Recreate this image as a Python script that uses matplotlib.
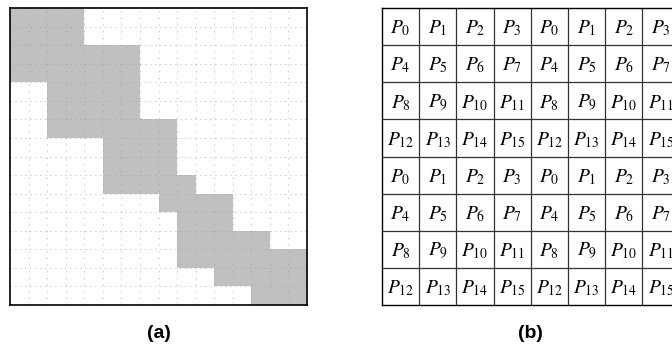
import matplotlib
matplotlib.use("Agg")
import matplotlib.pyplot as plt
from matplotlib.patches import Rectangle

plt.rcParams['mathtext.fontset'] = 'stix'

# ---- data ----
grid_n = 16
block_x0 = [0, 2, 5, 8, 9, 11, 13]
block_x1 = [4, 7, 9, 10, 12, 14, 16]
block_y0 = [0, 2, 6, 9, 10, 12, 13]
block_y1 = [4, 7, 10, 11, 14, 15, 16]

table_rows = 8
table_cols = 8
proc_grid = [[0, 1, 2, 3], [4, 5, 6, 7], [8, 9, 10, 11], [12, 13, 14, 15]]
panel_labels = ['(a)', '(b)']

W, H = 672, 347
fig = plt.figure(figsize=(W / 100, H / 100), dpi=100)

# ---- panel (a) ----
axA = fig.add_axes([10 / W, 1 - 305 / H, 297 / W, 297 / H])
axA.set_xlim(0, grid_n)
axA.set_ylim(grid_n, 0)
for x0, x1, y0, y1 in zip(block_x0, block_x1, block_y0, block_y1):
    axA.add_patch(Rectangle((x0, y0), x1 - x0, y1 - y0, facecolor='#c0c0c0',
                            edgecolor='none', zorder=1))
for k in range(1, grid_n):
    axA.axhline(k, color='#9a9a9a', lw=0.6, ls=(0, (1, 5)), zorder=2)
    axA.axvline(k, color='#9a9a9a', lw=0.6, ls=(0, (1, 7)), zorder=2)
axA.set_xticks([])
axA.set_yticks([])
for s in axA.spines.values():
    s.set_linewidth(1.2)
    s.set_color('black')

# ---- panel (b) ----
cw = 37.2
axB = fig.add_axes([382 / W, 1 - 305 / H, table_cols * cw / W, 297 / H])
axB.set_xlim(0, table_cols)
axB.set_ylim(table_rows, 0)
for k in range(1, table_cols):
    axB.axvline(k, color='#333333', lw=0.9)
for k in range(1, table_rows):
    axB.axhline(k, color='#333333', lw=0.9)
for r in range(table_rows):
    for c in range(table_cols):
        pid = proc_grid[r % 4][c % 4]
        axB.text(c + 0.5, r + 0.55, r'$P_{%d}$' % pid, ha='center', va='center',
                 fontsize=14)
axB.set_xticks([])
axB.set_yticks([])
for s in axB.spines.values():
    s.set_linewidth(1.0)
    s.set_color('black')

# ---- captions ----
fig.text(158.5 / W, 1 - 334 / H, panel_labels[0], ha='center', va='center',
         fontsize=14, fontweight='bold', family='Liberation Sans')
fig.text(530 / W, 1 - 334 / H, panel_labels[1], ha='center', va='center',
         fontsize=14, fontweight='bold', family='Liberation Sans')

fig.savefig('out.png', dpi=100)
